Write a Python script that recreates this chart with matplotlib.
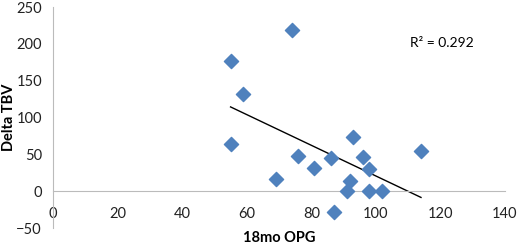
import numpy as np
import matplotlib.pyplot as plt

# values
opg_18mo = [55, 59, 55, 74, 69, 76, 81, 86, 87, 93, 92, 91, 96, 98, 98, 102, 114]
delta_tbv = [177, 132, 64, 219, 17, 48, 32, 45, -28, 74, 14, 0, 46, 30, 0, 0, 54]
r2_text = "R² = 0.292"

x_ticks = [0, 20, 40, 60, 80, 100, 120, 140]
y_ticks = [-50, 0, 50, 100, 150, 200, 250]

plt.rcParams['font.family'] = ['Lato', 'DejaVu Sans']

fig = plt.figure(figsize=(5.2, 2.45), dpi=100)
ax = fig.add_axes([0.102, 0.069, 0.869, 0.902])

ax.scatter(opg_18mo, delta_tbv, marker='D', s=52, color='#4F81BD',
           edgecolor='#4F81BD', zorder=3)

# linear trend line over the data range
slope, icpt = np.polyfit(opg_18mo, delta_tbv, 1)
xs = np.array([min(opg_18mo), max(opg_18mo)])
ax.plot(xs, slope * xs + icpt, color='black', lw=1, zorder=2)

ax.text(110.5, 201, r2_text, fontsize=10, va='center', ha='left')

ax.set_xlim(0, 140)
ax.set_ylim(-50, 250)
ax.set_xticks(x_ticks)
ax.set_yticks(y_ticks)
ax.tick_params(length=0, labelsize=10.5, colors='#222222')
ax.tick_params(axis='x', pad=11)
ax.tick_params(axis='y', pad=8)

ax.spines['top'].set_visible(False)
ax.spines['right'].set_visible(False)
ax.spines['left'].set_color('#BBBBBB')
ax.spines['bottom'].set_color('#BBBBBB')
ax.spines['bottom'].set_position(('data', 0))

fig.text(0.017, 0.52, 'Delta TBV', fontsize=10.5, fontweight='bold',
         rotation=90, ha='center', va='center')
fig.text(0.537, 0.03, '18mo OPG', fontsize=10.5, fontweight='bold',
         ha='center', va='center')

fig.savefig('out.png', dpi=100)
